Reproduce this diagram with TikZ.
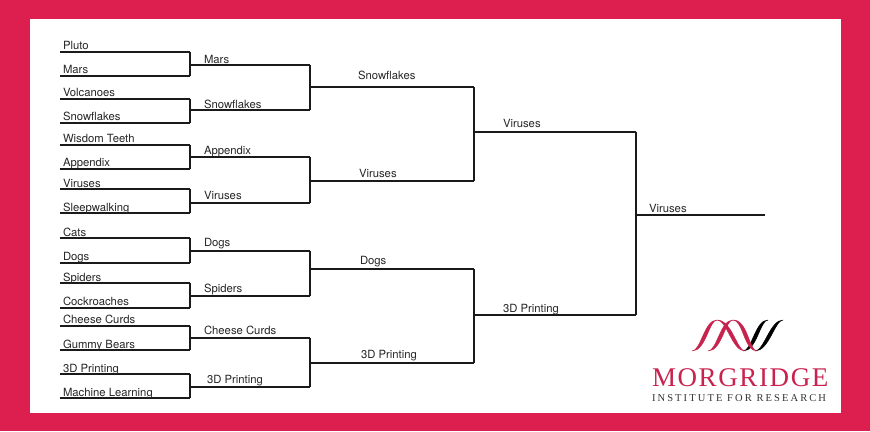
\documentclass[tikz,border=0pt]{standalone}
\usepackage{fontspec}
\setmainfont{TeX Gyre Heros}
\newfontfamily\logoserif[LetterSpace=6]{Liberation Serif}
\newfontfamily\logosub[LetterSpace=20]{Liberation Serif}
\definecolor{crimson}{HTML}{DC1F4E}
\definecolor{logored}{HTML}{C8234F}
\definecolor{logoink}{HTML}{333333}
\definecolor{inkline}{HTML}{1A1A1A}
\tikzset{
  lbl/.style={anchor=base west,inner sep=0pt,outer sep=0pt,font=\fontsize{11.3}{13}\selectfont,text=black!85},
  slotrule/.style={draw=inkline,line width=1.5pt,line cap=butt},
  meetrule/.style={draw=inkline,line width=2pt,line cap=square},
  logotxt/.style={anchor=base west,inner sep=0pt,outer sep=0pt}
}
% name, x-left, x-right, y-line, label x, label baseline, text
\newcommand{\slot}[7]{%
  \coordinate (#1-l) at (#2,#4);
  \coordinate (#1-r) at (#3,#4);
  \draw[slotrule] (#1-l) -- (#1-r);
  \node[lbl] (#1) at (#5,#6) {#7};
}
\newcommand{\meet}[2]{\draw[meetrule] (#1-r) -- (#2-r);}
% ribbons: x0 (bottom), x1 (top), colour
\newcommand{\ribup}[3]{\filldraw[#3,line width=.5pt] (#1,351) .. controls ({#1+9},351) and ({#2-13},320) .. (#2,320) .. controls ({#2-8},320) and ({#1+14},351) .. (#1,351);}
\newcommand{\ribdown}[3]{\filldraw[#3,line width=.5pt] (#1,320) .. controls ({#1+10},320) and ({#2-13},351) .. (#2,351) .. controls ({#2-8},351) and ({#1+15},320) .. (#1,320);}
\begin{document}
\begin{tikzpicture}[x=1pt,y=-1pt]
\useasboundingbox (0,0) rectangle (870,431);
\fill[crimson] (0,0) rectangle (870,431);
\fill[white] (30,19) rectangle (841,413);

% round 1
\slot{a1}{60}{190}{52}{63}{49}{Pluto}
\slot{a2}{60}{190}{76}{63}{73}{Mars}
\slot{a3}{60}{190}{99}{63}{96.5}{Volcanoes}
\slot{a4}{60}{190}{123}{63}{120.5}{Snowflakes}
\slot{a5}{60}{190}{145}{63}{142.5}{Wisdom Teeth}
\slot{a6}{60}{190}{169}{63}{166}{Appendix}
\slot{a7}{60}{190}{189}{63}{187}{Viruses}
\slot{a8}{60}{190}{213}{63}{211}{Sleepwalking}
\slot{a9}{60}{190}{238}{63}{236}{Cats}
\slot{a10}{60}{190}{263}{63}{260}{Dogs}
\slot{a11}{60}{190}{283}{63}{281}{Spiders}
\slot{a12}{60}{190}{308}{63}{305.5}{Cockroaches}
\slot{a13}{60}{190}{326}{63}{323.5}{Cheese Curds}
\slot{a14}{60}{190}{350}{63}{348}{Gummy Bears}
\slot{a15}{60}{190}{374}{63}{372}{3D Printing}
\slot{a16}{60}{190}{398}{63}{396}{Machine Learning}
% round 2
\slot{b1}{190}{310}{65}{204}{63}{Mars}
\slot{b2}{190}{310}{110}{204}{108}{Snowflakes}
\slot{b3}{190}{310}{157}{204}{154}{Appendix}
\slot{b4}{190}{310}{203}{204}{199}{Viruses}
\slot{b5}{190}{310}{251}{204}{246}{Dogs}
\slot{b6}{190}{310}{296}{204}{292}{Spiders}
\slot{b7}{190}{310}{338}{204}{334}{Cheese Curds}
\slot{b8}{190}{310}{387}{207}{383}{3D Printing}
% round 3
\slot{c1}{310}{474}{87}{358}{79.5}{Snowflakes}
\slot{c2}{310}{474}{181}{359}{177}{Viruses}
\slot{c3}{310}{474}{269}{360}{264}{Dogs}
\slot{c4}{310}{474}{363}{361}{358}{3D Printing}
% round 4
\slot{d1}{474}{636}{132}{503}{127}{Viruses}
\slot{d2}{474}{636}{315}{503}{312}{3D Printing}
% final
\slot{e1}{636}{765}{215}{649}{212}{Viruses}

\meet{a1}{a2}\meet{a3}{a4}\meet{a5}{a6}\meet{a7}{a8}
\meet{a9}{a10}\meet{a11}{a12}\meet{a13}{a14}\meet{a15}{a16}
\meet{b1}{b2}\meet{b3}{b4}\meet{b5}{b6}\meet{b7}{b8}
\meet{c1}{c2}\meet{c3}{c4}
\meet{d1}{d2}

% logo
\ribup{743}{768}{black}
\ribup{755}{783}{black}
\ribup{692}{717}{logored}
\ribup{708}{733}{logored}
\ribdown{717}{745}{logored}
\ribdown{733}{757}{logored}
\node[logotxt,text=logored,font=\logoserif\fontsize{27}{27}\selectfont] (brand) at (652,386) {MORGRIDGE};
\node[logotxt,text=logoink,font=\logosub\fontsize{10.5}{12}\selectfont] (brandsub) at (652,401) {INSTITUTE FOR RESEARCH};
\end{tikzpicture}
\end{document}
